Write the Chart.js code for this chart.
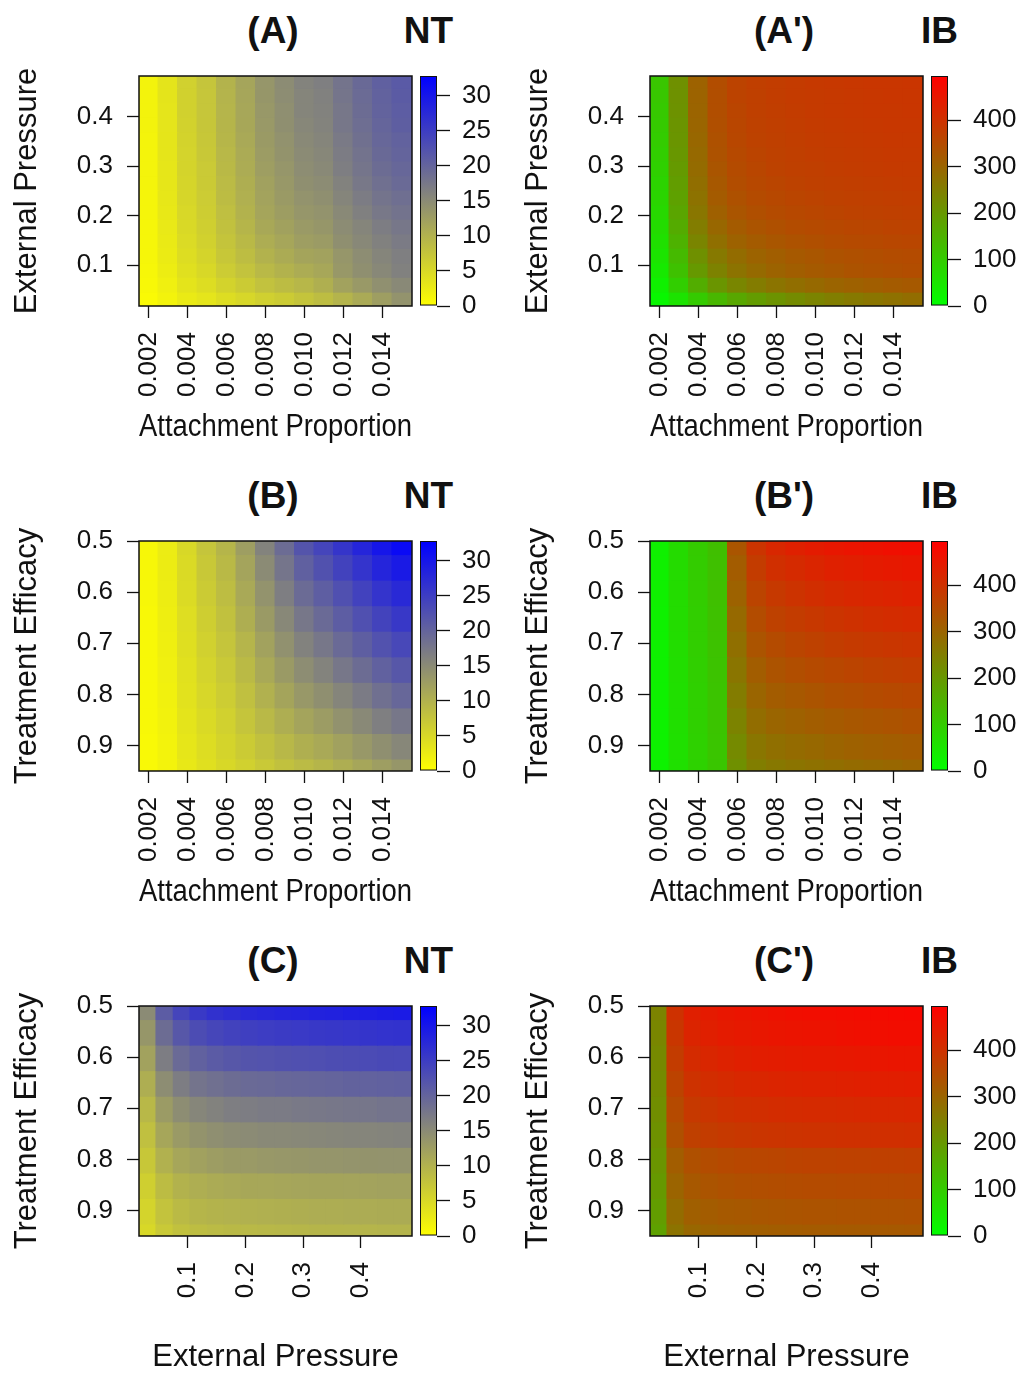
<!DOCTYPE html>
<html>
<head>
<meta charset="utf-8">
<script src="https://cdn.jsdelivr.net/npm/chart.js@4.4.1/dist/chart.umd.min.js"></script>
<style>
html, body { margin:0; padding:0; background:#fff; overflow:hidden; }
#fig { position:relative; width:1022px; height:1374px; }
#fig canvas { position:absolute; }
.ttl { position:absolute; font:bold 37px 'Liberation Sans', Arial, sans-serif; color:#111;
       line-height:37px; white-space:nowrap; transform:translateX(-50%); }
</style>
</head>
<body>
<div id="fig"></div>
<script>
// ---- axes values (cell centres) ----
const attachment = [0.002, 0.003, 0.004, 0.005, 0.006, 0.007, 0.008, 0.009, 0.010, 0.011, 0.012, 0.013, 0.014, 0.015]
const extPressure = [0.031, 0.060, 0.090, 0.119, 0.149, 0.178, 0.208, 0.237, 0.267, 0.296, 0.326, 0.355, 0.385, 0.414, 0.444, 0.473]
const efficacy = [0.50, 0.55, 0.60, 0.65, 0.70, 0.75, 0.80, 0.85, 0.90, 0.95]

// ---- tick labels ----
const attachTicks = [0.002, 0.004, 0.006, 0.008, 0.010, 0.012, 0.014]
const epTicks = [0.1, 0.2, 0.3, 0.4]
const effTicks = [0.5, 0.6, 0.7, 0.8, 0.9]
const ntTicks = [0, 5, 10, 15, 20, 25, 30]
const ibTicks = [0, 100, 200, 300, 400]
const ntMax = 32.8
const ibMax = 495

// colour ramps
const ntStops = ['#ffff00', '#808080', '#0000ff']
const ibStops = ['#00ff00', '#ff0000']

// (A) NT : rows = external pressure (top 0.473 -> bottom 0.031), cols = attachment
const ntA = [
  [1.5,3.5,6.0,7.5,9.8,11.6,13.6,14.8,16.0,16.5,18.0,19.3,20.5,21.3],
  [1.5,3.5,5.9,7.4,9.7,11.5,13.5,14.7,15.8,16.3,17.8,19.1,20.3,21.1],
  [1.5,3.4,5.9,7.4,9.6,11.4,13.3,14.5,15.7,16.2,17.6,18.9,20.1,20.9],
  [1.5,3.4,5.8,7.3,9.5,11.3,13.2,14.4,15.5,16.0,17.5,18.7,19.9,20.7],
  [1.4,3.3,5.7,7.2,9.4,11.1,13.0,14.1,15.3,15.8,17.2,18.4,19.6,20.3],
  [1.4,3.3,5.6,7.1,9.2,10.9,12.8,13.9,15.0,15.5,16.9,18.1,19.3,20.0],
  [1.4,3.2,5.5,6.9,9.0,10.7,12.5,13.6,14.7,15.2,16.6,17.8,18.9,19.6],
  [1.4,3.2,5.4,6.8,8.8,10.4,12.2,13.3,14.4,14.9,16.2,17.4,18.5,19.2],
  [1.3,3.1,5.3,6.6,8.6,10.2,11.9,13.0,14.0,14.4,15.8,16.9,17.9,18.6],
  [1.3,3.0,5.1,6.4,8.3,9.9,11.6,12.6,13.6,14.0,15.3,16.4,17.4,18.1],
  [1.2,2.9,4.9,6.2,8.0,9.5,11.2,12.1,13.1,13.5,14.8,15.8,16.8,17.5],
  [1.2,2.7,4.7,5.9,7.6,9.0,10.6,11.5,12.5,12.9,14.4,15.4,16.3,17.0],
  [1.1,2.6,4.4,5.5,7.2,8.5,9.9,10.8,11.7,12.0,13.6,14.7,15.7,16.5],
  [1.0,2.3,4.0,5.0,6.6,7.8,9.1,9.9,10.7,11.4,13.3,14.4,15.4,16.3],
  [0.9,2.0,3.5,4.4,5.7,6.7,7.9,8.6,9.3,10.3,12.0,13.2,14.3,15.3],
  [0.7,1.6,2.7,3.4,4.4,5.2,6.1,6.7,7.6,8.5,9.7,11.0,12.5,14.0]
]

// (A') IB : same layout as ntA
const ibA = [
  [110,215,305,345,365,372,377,381,384,386,388,390,391,392],
  [108,213,303,344,364,371,376,380,383,385,387,389,390,391],
  [105,211,301,343,362,370,375,379,382,384,386,388,389,390],
  [102,208,299,341,360,368,373,377,380,383,385,387,388,389],
  [99,205,296,338,357,366,371,375,378,381,383,385,386,387],
  [95,201,292,335,354,363,369,373,376,379,381,383,384,385],
  [91,196,287,330,350,360,366,370,373,376,378,380,382,383],
  [86,190,281,325,345,355,362,366,370,373,375,377,379,380],
  [81,183,274,318,338,349,356,361,365,368,371,373,375,376],
  [75,175,265,308,330,342,349,355,359,363,366,368,370,372],
  [68,164,252,296,319,332,340,347,352,356,359,362,364,366],
  [61,150,236,280,305,319,329,336,342,347,351,354,357,359],
  [52,134,215,260,286,302,313,322,329,335,340,344,347,350],
  [42,120,198,243,272,290,302,312,320,327,333,338,342,346],
  [30,95,160,205,235,255,270,282,292,300,307,313,318,322],
  [15,55,100,140,170,192,210,225,238,250,260,268,276,284]
]

// (B) NT : rows = efficacy (0.50 top -> 0.95 bottom), cols = attachment
const ntB = [
  [1.0,2.5,5.0,7.5,9.5,12.5,16.0,19.0,22.0,24.0,26.0,28.0,30.0,31.5],
  [1.0,2.4,4.8,7.1,9.0,11.8,15.0,17.8,20.5,22.4,24.3,26.2,28.1,29.5],
  [1.0,2.3,4.6,6.7,8.5,11.1,14.0,16.6,19.1,20.8,22.6,24.4,26.2,27.5],
  [0.9,2.2,4.3,6.3,8.0,10.4,13.0,15.4,17.6,19.2,20.9,22.6,24.2,25.6],
  [0.9,2.1,4.1,6.0,7.5,9.6,12.0,14.2,16.2,17.6,19.2,20.7,22.3,23.6],
  [0.9,2.0,3.9,5.6,7.0,8.9,11.1,13.0,14.7,16.0,17.5,18.9,20.4,21.6],
  [0.9,1.8,3.7,5.2,6.5,8.2,10.1,11.7,13.3,14.4,15.8,17.1,18.5,19.6],
  [0.9,1.7,3.5,4.8,6.0,7.5,9.1,10.5,11.8,12.8,14.1,15.3,16.5,17.6],
  [0.8,1.6,3.2,4.4,5.5,6.7,8.0,9.2,10.3,11.1,12.2,13.3,14.4,15.5],
  [0.8,1.5,3.0,4.0,5.0,6.0,7.0,8.0,8.8,9.5,10.5,11.5,12.5,13.5]
]

// (B') IB
const ibB = [
  [30,70,100,125,330,395,420,432,442,450,456,461,466,470],
  [30,69,99,123,317,379,403,414,424,432,437,442,447,451],
  [29,68,97,122,305,363,385,396,405,413,419,424,428,433],
  [28,67,96,120,292,347,368,379,387,395,400,405,410,414],
  [28,66,95,118,279,331,350,361,369,376,382,386,391,395],
  [27,65,93,117,267,315,333,343,351,358,363,368,372,377],
  [27,63,92,115,254,299,316,325,332,339,344,349,353,358],
  [26,62,91,114,241,283,298,307,314,321,326,330,334,339],
  [26,61,89,112,228,266,279,288,294,300,306,310,314,319],
  [25,60,88,110,215,250,262,270,276,282,287,291,295,300]
]

// (C) NT : rows = efficacy, cols = external pressure
const ntC = [
  [15.0,21.0,24.0,25.5,26.5,27.0,27.5,27.8,28.0,28.2,28.4,28.6,28.8,29.0,29.2,29.4],
  [13.5,18.9,21.6,23.0,23.8,24.3,24.7,25.0,25.2,25.4,25.6,25.7,25.9,26.1,26.3,26.4],
  [12.0,16.8,19.2,20.4,21.2,21.6,22.0,22.2,22.4,22.6,22.7,22.9,23.0,23.2,23.4,23.5],
  [10.5,14.7,16.8,17.9,18.5,18.9,19.2,19.4,19.6,19.7,19.9,20.0,20.2,20.3,20.4,20.5],
  [9.2,12.9,14.7,15.6,16.2,16.6,16.8,17.0,17.1,17.3,17.4,17.5,17.7,17.7,17.9,18.0],
  [8.2,11.5,13.1,13.9,14.5,14.8,15.0,15.2,15.3,15.4,15.5,15.6,15.7,15.8,15.9,16.0],
  [7.2,10.1,11.5,12.2,12.7,13.0,13.1,13.3,13.4,13.5,13.7,13.7,13.8,13.9,14.0,14.0],
  [6.2,8.6,9.9,10.5,10.9,11.1,11.3,11.4,11.5,11.6,11.7,11.7,11.8,11.9,12.0,12.0],
  [5.6,7.8,8.9,9.5,9.8,10.0,10.1,10.2,10.3,10.4,10.6,10.6,10.7,10.7,10.8,10.8],
  [5.0,7.0,8.0,8.5,8.8,9.0,9.1,9.2,9.3,9.4,9.5,9.5,9.6,9.6,9.7,9.7]
]

// (C') IB
const ibC = [
  [240,400,435,445,452,457,461,464,467,470,472,474,476,478,480,482],
  [235,390,425,435,442,447,451,454,457,459,461,463,465,467,469,470],
  [230,378,412,422,429,434,438,441,443,445,447,449,451,452,454,455],
  [225,365,398,408,414,419,422,425,427,429,431,433,434,436,437,438],
  [220,352,384,393,399,403,406,409,411,413,414,416,417,419,420,421],
  [214,340,370,379,385,389,392,394,396,398,399,401,402,403,404,405],
  [205,315,340,348,353,357,360,362,364,366,367,368,369,370,371,372],
  [198,300,325,332,337,341,344,346,348,349,350,351,352,353,354,355],
  [190,285,310,317,322,325,328,330,332,333,334,335,336,337,338,339],
  [182,272,296,303,307,310,313,315,317,318,319,320,321,322,323,324]
]

const FONT = "'Liberation Sans', Arial, sans-serif"
const INK = '#111'
const fig = document.getElementById('fig')

function hexToRgb(h) {
  return [parseInt(h.slice(1, 3), 16), parseInt(h.slice(3, 5), 16), parseInt(h.slice(5, 7), 16)]
}

// colour of a value on a ramp, t in 0..1
function rampColor(stops, t) {
  t = Math.max(0, Math.min(1, t))
  const seg = (stops.length - 1) * t
  const i = Math.min(Math.floor(seg), stops.length - 2)
  const f = seg - i
  const a = hexToRgb(stops[i]), b = hexToRgb(stops[i + 1])
  return 'rgb(' + a.map((c, k) => Math.round(c + (b[k] - c) * f)).join(',') + ')'
}

// box round the plot
const frame = {
  id: 'frame',
  afterDatasetsDraw(chart) {
    const {ctx, chartArea: a} = chart
    ctx.save()
    ctx.strokeStyle = INK
    ctx.lineWidth = 1.5
    ctx.strokeRect(a.left, a.top, a.right - a.left, a.bottom - a.top)
    ctx.restore()
  }
}

// keep the plot box where the layout padding puts it
function noOverhang(s) {
  s.paddingLeft = 0
  s.paddingRight = 0
  s.paddingTop = 0
  s.paddingBottom = 0
}

function axis(o) {
  const horiz = o.pos === 'x'
  return {
    type: 'linear', min: o.min, max: o.max, reverse: !!o.reverse,
    offset: false, beginAtZero: false,
    grid: {drawOnChartArea: false, drawTicks: true, tickLength: 12, tickWidth: 1.3, tickColor: INK, offset: false},
    border: {display: false},
    afterBuildTicks: s => { s.ticks = o.ticks.map(v => ({value: v})) },
    afterFit: s => {
      if (horiz) s.height = 140; else s.width = 139
      noOverhang(s)
    },
    ticks: {
      font: {family: FONT, size: 26}, color: INK, padding: 14, autoSkip: false,
      maxRotation: horiz ? 90 : 0, minRotation: horiz ? 90 : 0,
      callback: v => Number(v).toFixed(o.digits)
    },
    title: {display: true, text: o.title, color: INK, font: {family: FONT, size: 31},
            padding: horiz ? {top: 0, bottom: 0} : {top: 9, bottom: 0}}
  }
}

function addTitle(text, cx, top) {
  const d = document.createElement('div')
  d.className = 'ttl'
  d.textContent = text
  d.style.left = cx + 'px'
  d.style.top = top + 'px'
  fig.appendChild(d)
}

function panel(p) {
  const plotLeft = 139 + 511 * p.col
  const plotTop = 76 + 465 * p.row

  // heatmap
  const hm = document.createElement('canvas')
  hm.width = 416
  hm.height = 390
  hm.style.left = (511 * p.col) + 'px'
  hm.style.top = (plotTop - 20) + 'px'
  fig.appendChild(hm)
  const hy = Math.abs(p.y[1] - p.y[0]) / 2 * 1.1
  new Chart(hm, {
    type: 'bar',
    data: {
      datasets: p.y.map((yv, r) => ({
        data: p.x.map(xv => ({x: xv, y: [yv - hy, yv + hy]})),
        backgroundColor: p.z[r].map(v => rampColor(p.stops, v / p.zMax)),
        borderWidth: 0, grouped: false, barPercentage: 1.1, categoryPercentage: 1, clip: 0
      }))
    },
    options: {
      responsive: false, animation: false, devicePixelRatio: 1,
      layout: {padding: {top: 20, right: 4, left: 0, bottom: 0}},
      plugins: {legend: {display: false}, tooltip: {enabled: false}},
      scales: {
        x: axis(Object.assign({pos: 'x'}, p.xAxis)),
        y: axis(Object.assign({pos: 'y'}, p.yAxis))
      }
    },
    plugins: [frame]
  })

  // colour bar
  const cb = document.createElement('canvas')
  cb.width = 100
  cb.height = 276
  cb.style.left = (plotLeft + 281 - 4) + 'px'
  cb.style.top = (plotTop - 20) + 'px'
  fig.appendChild(cb)
  new Chart(cb, {
    type: 'bar',
    data: {
      labels: [''],
      datasets: [{
        data: [[0, p.zMax]],
        backgroundColor: ctx => {
          const ch = ctx.chart, ys = ch.scales.y
          if (!ch.chartArea || !ys) return p.stops[0]
          const g = ch.ctx.createLinearGradient(0, ys.getPixelForValue(0), 0, ys.getPixelForValue(p.zMax))
          p.stops.forEach((c, i) => g.addColorStop(i / (p.stops.length - 1), c))
          return g
        },
        borderColor: INK, borderWidth: 1.3, borderSkipped: false,
        barPercentage: 1, categoryPercentage: 1
      }]
    },
    options: {
      responsive: false, animation: false, devicePixelRatio: 1,
      layout: {padding: {left: 4, top: 20, bottom: 26, right: 0}},
      plugins: {legend: {display: false}, tooltip: {enabled: false}},
      scales: {
        x: {display: false},
        y: {
          position: 'right', min: 0, max: p.zMax,
          grid: {drawOnChartArea: false, tickLength: 13, tickWidth: 1.3, tickColor: INK},
          border: {display: false},
          afterBuildTicks: s => { s.ticks = p.zTicks.map(v => ({value: v})) },
          afterFit: s => { s.width = 79; noOverhang(s) },
          ticks: {font: {family: FONT, size: 26}, color: INK, padding: 12}
        }
      }
    }
  })

  addTitle(p.label, plotLeft + 134, 12 + 465 * p.row)
  addTitle(p.varName, plotLeft + 289.5, 12 + 465 * p.row)
}

const attachAxis = {ticks: attachTicks, min: 0.0015, max: 0.0155, digits: 3, title: 'Attachment Proportion'}
const epAxisY = {ticks: epTicks, min: 0.017, max: 0.483, digits: 1, title: 'External Pressure'}
const epAxisX = {ticks: epTicks, min: 0.0156, max: 0.4885, digits: 1, title: 'External Pressure'}
const effAxis = {ticks: effTicks, min: 0.5, max: 0.95, reverse: true, digits: 1, title: 'Treatment Efficacy'}
const epRows = extPressure.slice().reverse()

panel({col: 0, row: 0, label: '(A)', varName: 'NT', x: attachment, y: epRows, z: ntA,
       xAxis: attachAxis, yAxis: epAxisY, stops: ntStops, zMax: ntMax, zTicks: ntTicks})
panel({col: 1, row: 0, label: "(A')", varName: 'IB', x: attachment, y: epRows, z: ibA,
       xAxis: attachAxis, yAxis: epAxisY, stops: ibStops, zMax: ibMax, zTicks: ibTicks})
panel({col: 0, row: 1, label: '(B)', varName: 'NT', x: attachment, y: efficacy, z: ntB,
       xAxis: attachAxis, yAxis: effAxis, stops: ntStops, zMax: ntMax, zTicks: ntTicks})
panel({col: 1, row: 1, label: "(B')", varName: 'IB', x: attachment, y: efficacy, z: ibB,
       xAxis: attachAxis, yAxis: effAxis, stops: ibStops, zMax: ibMax, zTicks: ibTicks})
panel({col: 0, row: 2, label: '(C)', varName: 'NT', x: extPressure, y: efficacy, z: ntC,
       xAxis: epAxisX, yAxis: effAxis, stops: ntStops, zMax: ntMax, zTicks: ntTicks})
panel({col: 1, row: 2, label: "(C')", varName: 'IB', x: extPressure, y: efficacy, z: ibC,
       xAxis: epAxisX, yAxis: effAxis, stops: ibStops, zMax: ibMax, zTicks: ibTicks})
</script>
</body>
</html>
